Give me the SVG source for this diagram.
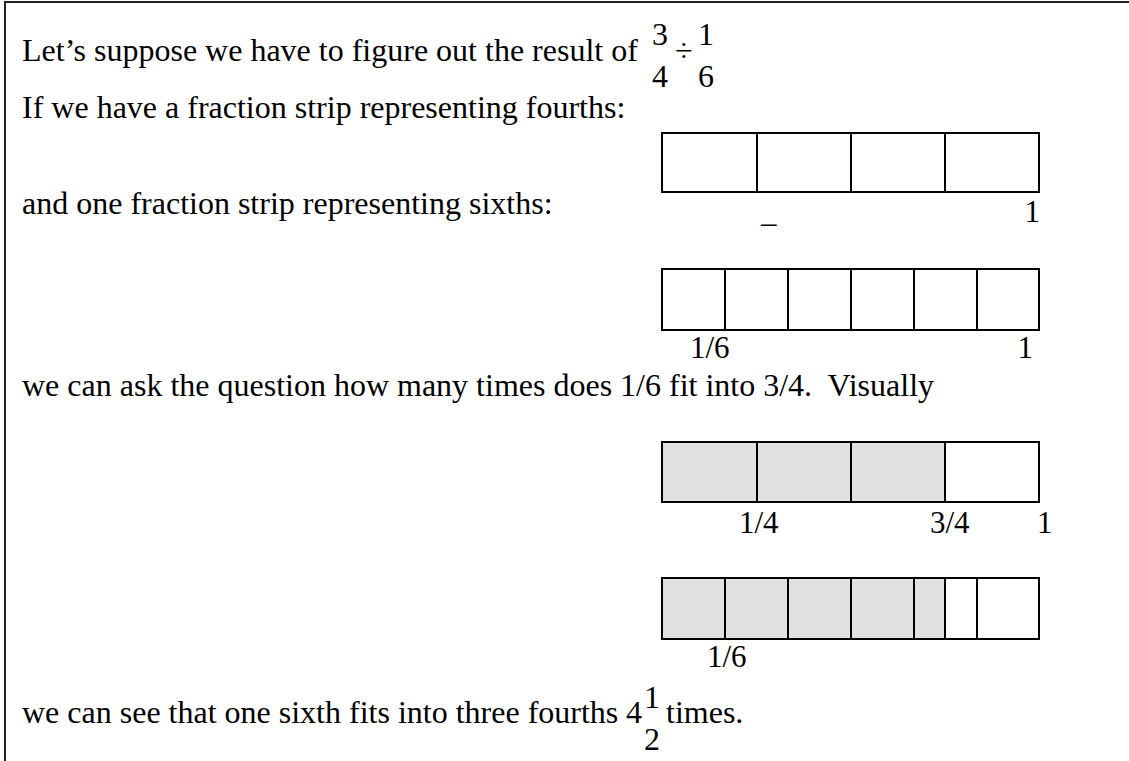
<svg xmlns="http://www.w3.org/2000/svg" width="1129" height="761" viewBox="0 0 1129 761">
<style>
  .t { font-family: "Liberation Serif", "Times New Roman", serif; font-size: 32px; fill: #000; }
  .l { font-family: "Liberation Serif", "Times New Roman", serif; font-size: 31px; fill: #000; }
  .box { fill: #fff; stroke: #000; stroke-width: 2; }
  .shade { fill: #e0e0e0; stroke: none; }
  .div { stroke: #000; stroke-width: 2; }
  .edge { fill: none; stroke: #000; stroke-width: 2; }
  .frame { stroke: #222; stroke-width: 2; fill: none; }
</style>
<rect width="1129" height="761" fill="#fff"/>
<g id="frame">
  <line class="frame" x1="4" y1="2" x2="1129" y2="2"/>
  <line class="frame" x1="5" y1="1" x2="5" y2="761"/>
</g>
<g id="text-intro">
  <text class="t" x="22" y="61">Let’s suppose we have to figure out the result of</text>
  <text class="t" x="652" y="45">3</text>
  <text class="t" x="652" y="87">4</text>
  <text class="t" x="675" y="61">÷</text>
  <text class="t" x="698" y="45">1</text>
  <text class="t" x="698" y="87">6</text>
  <text class="t" x="22" y="118">If we have a fraction strip representing fourths:</text>
  <text class="t" x="22" y="214">and one fraction strip representing sixths:</text>
  <text class="t" x="22" y="396" xml:space="preserve">we can ask the question how many times does 1/6 fit into 3/4.  Visually</text>
</g>
<g id="strip-fourths">
  <rect class="box" x="662" y="133" width="377" height="59"/>
  <line class="div" x1="757" y1="133" x2="757" y2="192"/>
  <line class="div" x1="851" y1="133" x2="851" y2="192"/>
  <line class="div" x1="945" y1="133" x2="945" y2="192"/>
  <text class="l" x="761" y="222">_</text>
  <text class="l" x="1040" y="222" text-anchor="end">1</text>
</g>
<g id="strip-sixths">
  <rect class="box" x="662" y="269" width="377" height="61"/>
  <line class="div" x1="725" y1="269" x2="725" y2="330"/>
  <line class="div" x1="788" y1="269" x2="788" y2="330"/>
  <line class="div" x1="851" y1="269" x2="851" y2="330"/>
  <line class="div" x1="914" y1="269" x2="914" y2="330"/>
  <line class="div" x1="977" y1="269" x2="977" y2="330"/>
  <text class="l" x="690" y="358">1/6</text>
  <text class="l" x="1033" y="358" text-anchor="end">1</text>
</g>
<g id="strip-three-fourths">
  <rect class="box" x="662" y="442" width="377" height="60"/>
  <rect class="shade" x="663" y="443" width="282" height="58"/>
  <line class="div" x1="757" y1="442" x2="757" y2="502"/>
  <line class="div" x1="851" y1="442" x2="851" y2="502"/>
  <line class="div" x1="945" y1="442" x2="945" y2="502"/>
  <rect class="edge" x="662" y="442" width="377" height="60"/>
  <text class="l" x="739" y="533">1/4</text>
  <text class="l" x="930" y="533">3/4</text>
  <text class="l" x="1037" y="533">1</text>
</g>
<g id="strip-sixths-fit">
  <rect class="box" x="662" y="578" width="377" height="61"/>
  <rect class="shade" x="663" y="579" width="282" height="59"/>
  <line class="div" x1="725" y1="578" x2="725" y2="639"/>
  <line class="div" x1="788" y1="578" x2="788" y2="639"/>
  <line class="div" x1="851" y1="578" x2="851" y2="639"/>
  <line class="div" x1="914" y1="578" x2="914" y2="639"/>
  <line class="div" x1="945" y1="578" x2="945" y2="639"/>
  <line class="div" x1="977" y1="578" x2="977" y2="639"/>
  <rect class="edge" x="662" y="578" width="377" height="61"/>
  <text class="l" x="707" y="667">1/6</text>
</g>
<g id="text-conclusion">
  <text class="t" x="22" y="723">we can see that one sixth fits into three fourths</text>
  <text class="t" x="626" y="723">4</text>
  <text class="t" x="644" y="708">1</text>
  <text class="t" x="644" y="750">2</text>
  <text class="t" x="666" y="723">times.</text>
</g>
</svg>
